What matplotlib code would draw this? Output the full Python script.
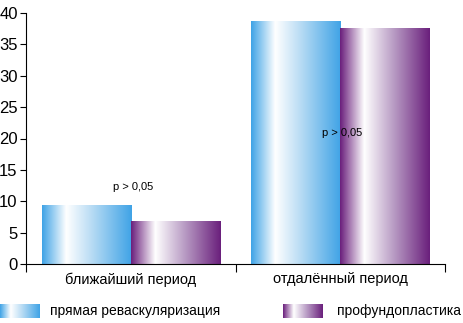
import matplotlib.pyplot as plt
from matplotlib.colors import LinearSegmentedColormap
import numpy as np

plt.rcParams['font.family'] = ['Liberation Sans', 'DejaVu Sans']

categories = ['ближайший период', 'отдалённый период']
series_names = ['прямая реваскуляризация', 'профундопластика']
revasc = [9.4, 38.7]
profund = [6.7, 37.6]
p_labels = ['p > 0,05', 'p > 0,05']
p_heights = [12.3, 20.9]

blue = LinearSegmentedColormap.from_list('b', [(0, '#3fa3e6'), (0.27, '#ffffff'), (0.55, '#b9dcf4'), (1, '#3fa3e6')])
purple = LinearSegmentedColormap.from_list('p', [(0, '#6a1f7c'), (0.27, '#ffffff'), (0.6, '#b89bc4'), (1, '#6a1f7c')])
grad = np.linspace(0, 1, 256).reshape(1, -1)

fig = plt.figure(figsize=(4.63, 3.23), dpi=100)
ax = fig.add_axes([26 / 463, 1 - 264 / 323, 419 / 463, 251 / 323])

w = 0.425
x = np.arange(len(categories))
for i in x:
    ax.imshow(grad, cmap=blue, extent=(i - w, i, 0, revasc[i]), aspect='auto', zorder=2)
    ax.imshow(grad, cmap=purple, extent=(i, i + w, 0, profund[i]), aspect='auto', zorder=2)
    ax.text(i + 0.01, p_heights[i], p_labels[i], ha='center', va='center', fontsize=8, zorder=3)

ax.set_xlim(-0.5, 1.5)
ax.set_ylim(0, 40)
ax.set_yticks(range(0, 41, 5))
ax.tick_params(axis='y', labelsize=12, length=4, pad=2)
ax.set_xticks([-0.5, 0.5, 1.5])
ax.set_xticklabels([])
ax.set_xticks(x, minor=True)
ax.set_xticklabels(categories, minor=True, fontsize=10.5)
ax.tick_params(axis='x', which='major', length=6, direction='out')
ax.tick_params(axis='x', which='minor', length=0, pad=6)
for s in ['top', 'right']:
    ax.spines[s].set_visible(False)
ax.spines['bottom'].set_clip_on(False)

# legend with gradient swatches
for cmap, name, sx, tx in [(blue, series_names[0], 0, 50), (purple, series_names[1], 283, 337)]:
    lax = fig.add_axes([sx / 463, 1 - 318 / 323, 40 / 463, 14 / 323])
    lax.imshow(grad, cmap=cmap, aspect='auto')
    lax.axis('off')
    fig.text(tx / 463, 1 - 311 / 323, name, fontsize=10, va='center', ha='left')

fig.savefig('out.png', dpi=100)
